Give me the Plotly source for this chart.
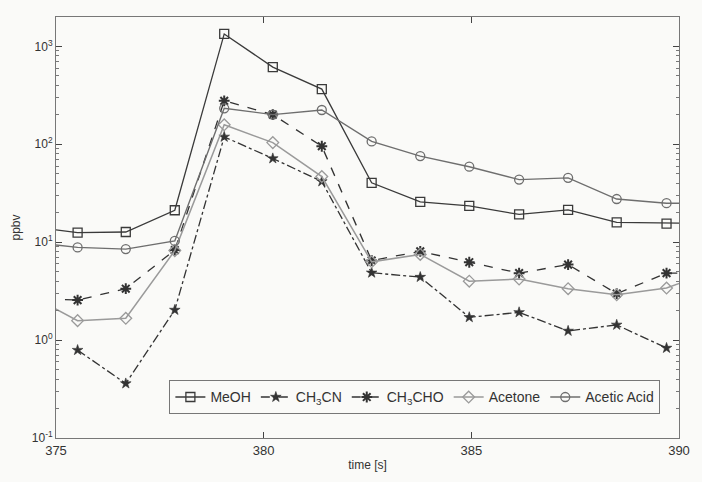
import plotly.graph_objects as go

# time points (s); first/last values lie just outside the visible window
t_main = [374.35, 375.52, 376.68, 377.86, 379.05, 380.22, 381.40, 382.60, 383.77, 384.95, 386.15, 387.33, 388.50, 389.70, 390.90]
t_cn = [375.52, 376.68, 377.86, 379.05, 380.22, 381.40, 382.60, 383.77, 384.95, 386.15, 387.33, 388.50, 389.70]

meoh = [14.5, 12.5, 12.7, 21.2, 1340, 614, 366, 40.4, 25.8, 23.5, 19.2, 21.4, 15.9, 15.5, 15.5]
ch3cn = [0.79, 0.36, 2.03, 119, 71.6, 41.7, 4.87, 4.4, 1.71, 1.92, 1.24, 1.43, 0.83]
ch3cho = [2.7, 2.56, 3.35, 8.3, 278, 201, 95.5, 6.5, 8.05, 6.24, 4.83, 5.9, 2.98, 4.83, 4.8]
acetone = [2.9, 1.58, 1.67, 8.2, 158, 104, 46.8, 6.3, 7.5, 4.0, 4.2, 3.35, 2.9, 3.4, 5.2]
acetic = [10.0, 8.85, 8.5, 10.3, 233, 201, 224, 107, 75.7, 59, 43.6, 45.4, 27.6, 25, 25]

ytickvals = [0.1, 1, 10, 100, 1000]
yticktext = ["10<sup>-1</sup>", "10<sup>0</sup>", "10<sup>1</sup>", "10<sup>2</sup>", "10<sup>3</sup>"]
xtickvals = [375, 380, 385, 390]

fig = go.Figure()
fig.add_trace(go.Scatter(x=t_main, y=meoh, name="MeOH", mode="lines+markers",
                         line=dict(color="#3a3a3a", width=1.3),
                         marker=dict(symbol="square-open", size=9, color="#3a3a3a", line=dict(width=1.3))))
fig.add_trace(go.Scatter(x=t_cn, y=ch3cn, name="CH<sub>3</sub>CN", mode="lines+markers",
                         line=dict(color="#333333", width=1.3, dash="dashdot"),
                         marker=dict(symbol="star", size=8, color="#333333", line=dict(width=0.6, color="#333333"))))
fig.add_trace(go.Scatter(x=t_main, y=ch3cho, name="CH<sub>3</sub>CHO", mode="lines+markers",
                         line=dict(color="#333333", width=1.3, dash="dash"),
                         marker=dict(symbol="asterisk-open", size=9, color="#333333", line=dict(width=2, color="#333333"))))
fig.add_trace(go.Scatter(x=t_main, y=acetone, name="Acetone", mode="lines+markers",
                         line=dict(color="#9a9a9a", width=1.5),
                         marker=dict(symbol="diamond-open", size=9, color="#9a9a9a", line=dict(width=1.3))))
fig.add_trace(go.Scatter(x=t_main, y=acetic, name="Acetic Acid", mode="lines+markers",
                         line=dict(color="#6e6e6e", width=1.4),
                         marker=dict(symbol="circle-open", size=9, color="#6e6e6e", line=dict(width=1.3))))

fig.update_layout(
    width=702, height=482,
    margin=dict(l=56, r=21, t=17, b=40),
    paper_bgcolor="#fafaf8", plot_bgcolor="#fafaf8",
    font=dict(family="Liberation Sans, Arial, sans-serif", size=12, color="#333333"),
    showlegend=True,
    legend=dict(orientation="h", x=0.182, y=0.056, xanchor="left", yanchor="bottom",
                bgcolor="#fafaf8", bordercolor="#777777", borderwidth=1,
                font=dict(size=14, color="#333333"), itemwidth=30, tracegroupgap=0),
)
fig.update_xaxes(range=[375, 390], tickvals=xtickvals, ticks="inside", ticklen=6,
                 showline=True, linecolor="#777777", linewidth=1, mirror="ticks",
                 showgrid=False, zeroline=False,
                 title=dict(text="time [s]", font=dict(size=12), standoff=4),
                 tickfont=dict(size=13))
fig.update_yaxes(type="log", range=[-1, 3.3], tickvals=ytickvals, ticktext=yticktext,
                 ticks="inside", ticklen=6, showline=True, linecolor="#777777", linewidth=1,
                 mirror="ticks", showgrid=False, zeroline=False,
                 minor=dict(ticks="inside", ticklen=3, tickcolor="#777777", showgrid=False, dtick="D1"),
                 title=dict(text="ppbv", font=dict(size=12), standoff=8),
                 tickfont=dict(size=12))

fig.write_html("out.html")
